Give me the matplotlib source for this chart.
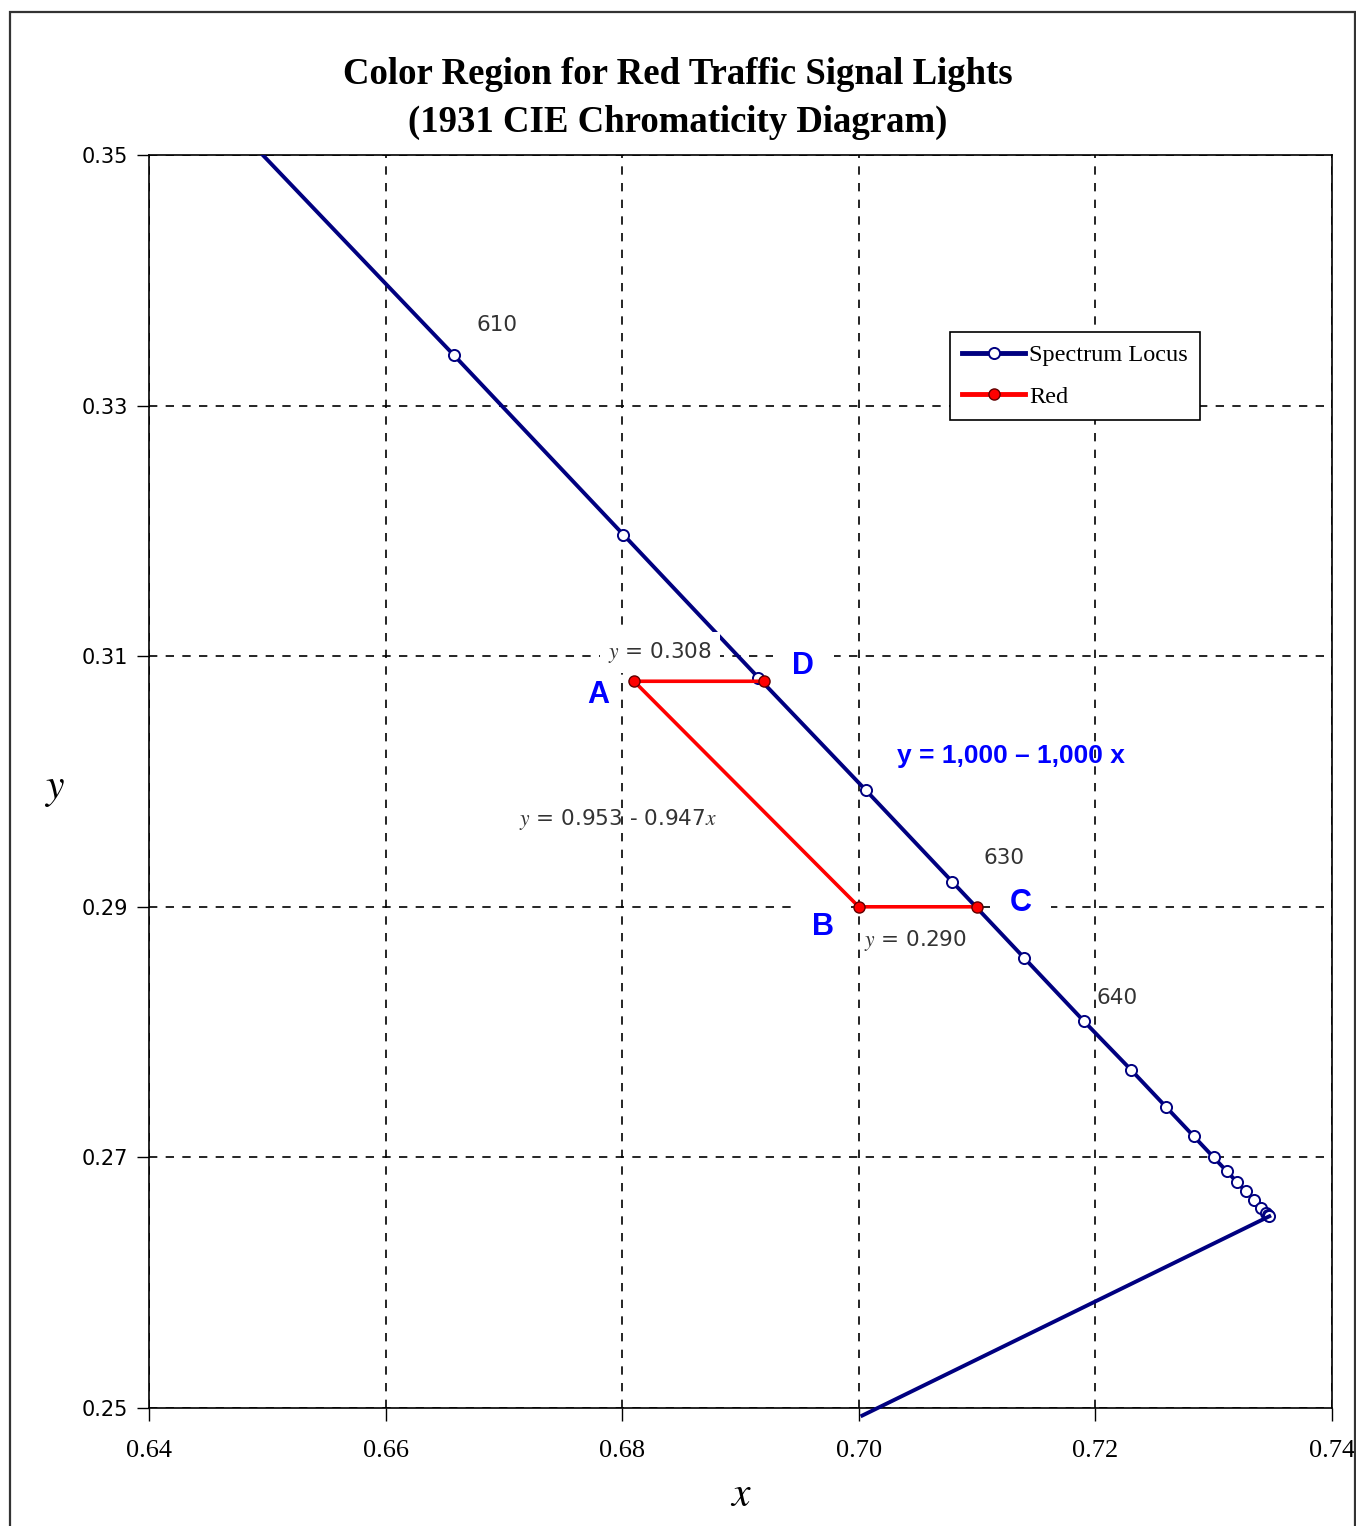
import matplotlib
matplotlib.use("Agg")
import matplotlib.pyplot as plt
from matplotlib.patches import Rectangle

plt.rcParams['mathtext.fontset'] = 'stix'

# spectrum locus, 1931 CIE (605..700 nm, then the purple line)
locus_x = [0.6482, 0.6658, 0.6801, 0.6915, 0.7006, 0.7079, 0.7140, 0.7190, 0.7230,
           0.7260, 0.7283, 0.7300, 0.7311, 0.7320, 0.7327, 0.7334, 0.7340, 0.7344,
           0.7346, 0.7347]
locus_y = [0.3514, 0.3340, 0.3197, 0.3083, 0.2993, 0.2920, 0.2859, 0.2809, 0.2770,
           0.2740, 0.2717, 0.2700, 0.2689, 0.2680, 0.2673, 0.2666, 0.2660, 0.2656,
           0.2654, 0.2653]
purple_x = [0.7347, 0.7003]
purple_y = [0.2653, 0.2494]

# red region corners D, A, B, C
red_x = [0.692, 0.681, 0.700, 0.710]
red_y = [0.308, 0.308, 0.290, 0.290]

wl_labels = ["610", "630", "640"]
wl_pos = [(0.6694, 0.3364), (0.7123, 0.2939), (0.7218, 0.2827)]

xticks = [0.64, 0.66, 0.68, 0.70, 0.72, 0.74]
yticks = [0.25, 0.27, 0.29, 0.31, 0.33, 0.35]

fig = plt.figure(figsize=(13.56, 15.26), dpi=100)
ax = fig.add_axes([149/1356, 1 - 1408/1526, (1332-149)/1356, (1408-155)/1526])

navy = '#000080'
ax.plot(locus_x, locus_y, color=navy, lw=2.8, marker='o', ms=8,
        mfc='white', mec=navy, mew=1.4, zorder=3, label='Spectrum Locus')
ax.plot(purple_x, purple_y, color=navy, lw=2.8, zorder=3, clip_on=False)
ax.plot(red_x, red_y, color='red', lw=2.6, marker='o', ms=8,
        mfc='red', mec='#600000', mew=1.0, zorder=4, label='Red')

ax.set_xlim(0.64, 0.74)
ax.set_ylim(0.25, 0.35)
ax.set_xticks(xticks)
ax.set_yticks(yticks)
ax.set_xticklabels(["%.2f" % v for v in xticks], family='Liberation Serif', fontsize=19)
ax.set_yticklabels(["%.2f" % v for v in yticks], family='DejaVu Sans', fontsize=15)
ax.tick_params(direction='out', length=9, width=1, pad=6)
ax.tick_params(axis='x', pad=14)
ax.grid(True, color='black', ls=(0, (5, 5)), lw=1.2)
for s in ax.spines.values():
    s.set_linewidth(1.2)

ax.set_xlabel('$x$', fontsize=30, labelpad=8)
ax.set_ylabel('$y$', fontsize=30, rotation=0, va='center', ha='center')
ax.yaxis.set_label_coords(-0.08, (1408-788)/1253)

fig.text(0.5, 1 - 75/1526, 'Color Region for Red Traffic Signal Lights', ha='center',
         va='center', family='Liberation Serif', weight='bold', fontsize=26.5)
fig.text(0.5, 1 - 122/1526, '(1931 CIE Chromaticity Diagram)', ha='center',
         va='center', family='Liberation Serif', weight='bold', fontsize=26.5)

for t, (px, py) in zip(wl_labels, wl_pos):
    ax.text(px, py, t, ha='center', va='center', fontsize=15.5, color='#333333')

blue = '#0000ff'
ax.text(0.6780, 0.3069, 'A', color=blue, weight='bold', fontsize=22,
        ha='center', va='center', family='Liberation Sans', zorder=6)
ax.text(0.6953, 0.3092, 'D', color=blue, weight='bold', fontsize=22,
        ha='center', va='center', family='Liberation Sans', zorder=2,
        bbox=dict(facecolor='white', edgecolor='none', pad=14))
ax.text(0.6970, 0.2884, 'B', color=blue, weight='bold', fontsize=22,
        ha='center', va='center', family='Liberation Sans', zorder=2,
        bbox=dict(facecolor='white', edgecolor='none', pad=12))
ax.text(0.7137, 0.2903, 'C', color=blue, weight='bold', fontsize=22,
        ha='center', va='center', family='Liberation Sans', zorder=2,
        bbox=dict(facecolor='white', edgecolor='none', pad=14))
ax.text(0.7129, 0.3020, 'y = 1,000 \u2013 1,000 x', color=blue, weight='bold',
        fontsize=19, ha='center', va='center', family='Liberation Sans', zorder=6)

ax.text(0.6832, 0.3103, '$y$ = 0.308', fontsize=15.5, color='#333333',
        ha='center', va='center', zorder=6,
        bbox=dict(facecolor='white', edgecolor='none', pad=6))
ax.text(0.6796, 0.2970, '$y$ = 0.953 - 0.947$x$', fontsize=15.5, color='#333333',
        ha='center', va='center', zorder=6)
ax.text(0.7048, 0.2873, '$y$ = 0.290', fontsize=15.5, color='#333333',
        ha='center', va='center', zorder=6)

leg = ax.legend(loc='upper left', bbox_to_anchor=((950-149)/1183, (1408-332)/1253),
                borderaxespad=0, fancybox=False, framealpha=1, edgecolor='black',
                prop={'family': 'Liberation Serif', 'size': 17.5}, handlelength=2.6,
                labelspacing=0.8, borderpad=0.5, handletextpad=0.15)
leg.get_frame().set_linewidth(1.2)
leg.set_zorder(7)
for ln in leg.get_lines():
    ln.set_linewidth(3.5)

fig.patches.append(Rectangle((10/1356, -0.02), (1355-10)/1356, 1.02 - 12/1526,
                             transform=fig.transFigure, fill=False,
                             edgecolor='#333333', lw=1.6))

fig.savefig('out.png', dpi=100)
